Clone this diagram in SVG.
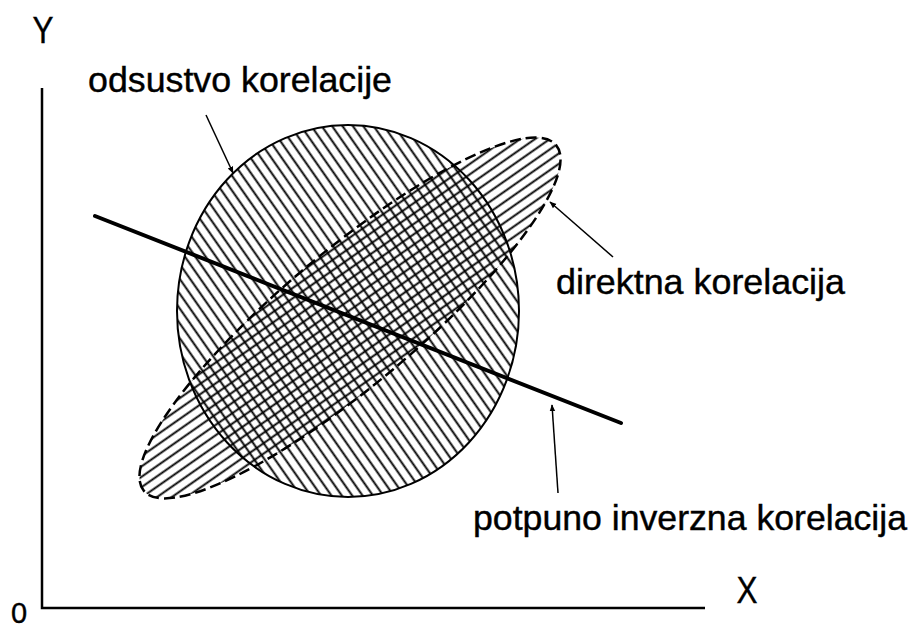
<svg xmlns="http://www.w3.org/2000/svg" width="912" height="630" viewBox="0 0 912 630">
<style>
.lbl{font-family:"Liberation Sans",Arial,sans-serif;fill:#000;stroke:#000;stroke-width:0.4;}
.ax{stroke:#000;stroke-width:2.5;fill:none;}
.ptr{stroke:#000;stroke-width:1.5;fill:none;marker-end:url(#ah);}
.hl{stroke:#000;stroke-width:1.9;}
</style>
<defs>
<pattern id="hC" patternUnits="userSpaceOnUse" width="8.5" height="8.5" patternTransform="rotate(-35)">
<line class="hl" x1="4.25" y1="-1" x2="4.25" y2="9.5"/>
</pattern>
<pattern id="hE" patternUnits="userSpaceOnUse" width="8.5" height="8.5" patternTransform="rotate(55)">
<line class="hl" x1="4.25" y1="-1" x2="4.25" y2="9.5"/>
</pattern>
<marker id="ah" viewBox="0 0 10 10" refX="9" refY="5" markerWidth="7" markerHeight="7" markerUnits="userSpaceOnUse" orient="auto">
<path d="M0,1 L10,5 L0,9 z" fill="#000"/>
</marker>
</defs>
<rect width="912" height="630" fill="#fff"/>
<g id="axes">
<path class="ax" d="M42,88 V608 H705"/>
<text class="lbl" x="43" y="43" font-size="37" text-anchor="middle" textLength="21" lengthAdjust="spacingAndGlyphs">Y</text>
<text class="lbl" x="747" y="603" font-size="37" text-anchor="middle" textLength="21" lengthAdjust="spacingAndGlyphs">X</text>
<text class="lbl" x="19" y="623" font-size="29" text-anchor="middle">0</text>
</g>
<g id="direktna">
<path d="M143.9,490.9 A269,67 -40 1,1 556.1,145.1 A269,67 -40 1,1 143.9,490.9 Z" fill="url(#hE)" stroke="#000" stroke-width="2.5" stroke-dasharray="11 5"/>
</g>
<g id="odsustvo">
<ellipse cx="348" cy="311" rx="171" ry="186" fill="url(#hC)" stroke="#000" stroke-width="2"/>
</g>
<g id="inverzna">
<line x1="95" y1="216" x2="621" y2="423" stroke="#000" stroke-width="4" stroke-linecap="round"/>
</g>
<g id="connectors">
<line class="ptr" x1="206" y1="115" x2="233" y2="173"/>
<line class="ptr" x1="613" y1="257" x2="550" y2="202"/>
<line class="ptr" x1="558" y1="493" x2="552" y2="405"/>
</g>
<g id="labels">
<text class="lbl" x="88" y="92" font-size="35" textLength="304" lengthAdjust="spacingAndGlyphs">odsustvo korelacije</text>
<text class="lbl" x="556" y="294" font-size="35" textLength="289" lengthAdjust="spacingAndGlyphs">direktna korelacija</text>
<text class="lbl" x="473" y="530" font-size="35" textLength="434" lengthAdjust="spacingAndGlyphs">potpuno inverzna korelacija</text>
</g>
</svg>
